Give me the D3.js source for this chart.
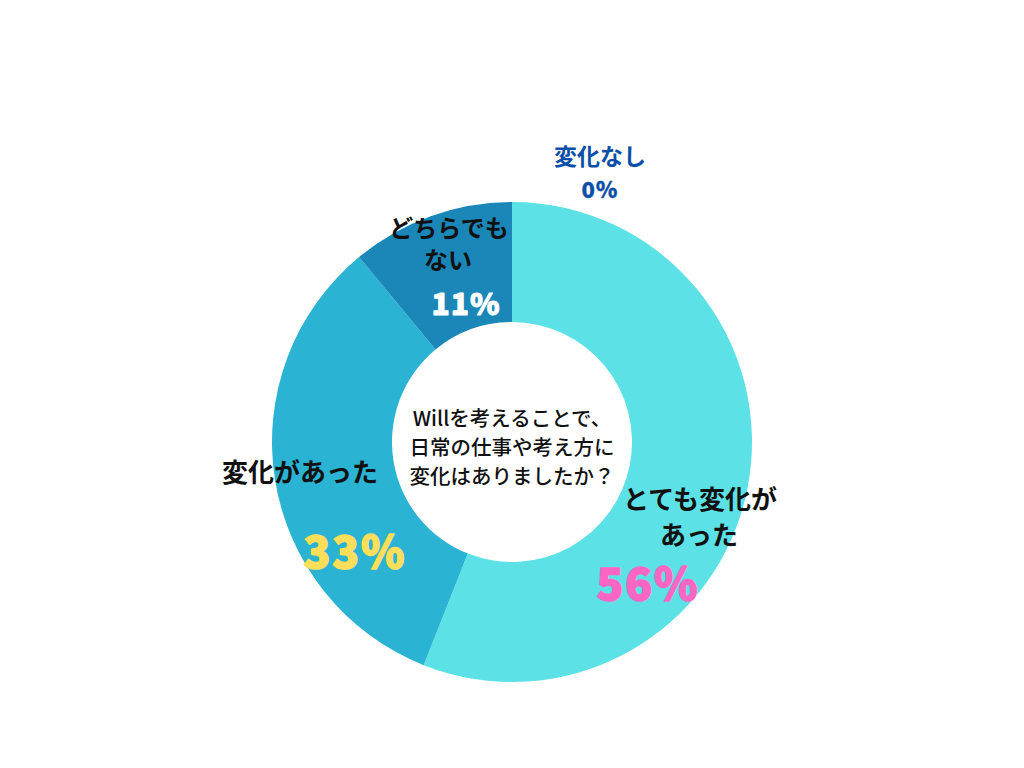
<!DOCTYPE html>
<html>
<head>
<meta charset="utf-8">
<script src="https://cdn.jsdelivr.net/npm/d3@7"></script>
<style>
  body { margin: 0; background: #fff; }
  svg { display: block; }
</style>
</head>
<body>
<svg id="chart"></svg>
<script>
// answers, in drawing order (clockwise from 12 o'clock)
let categories = ['とても変化があった', '変化があった', 'どちらでもない', '変化なし'];
let values = [56, 33, 11, 0];
let sliceColors = ['#5CE1E6', '#2BB3D4', '#1A87B8', '#0B4FA8'];

// label text as shown on the picture (lines + percent)
let labelLines = [['とても変化が', 'あった'], ['変化があった'], ['どちらでも', 'ない'], ['変化なし']];
let pctLabels = ['56%', '33%', '11%', '0%'];
let pctColors = ['#FF66C4', '#FFDE59', '#FFFFFF', '#0B4FA8'];
let centerLines = ['Willを考えることで、', '日常の仕事や考え方に', '変化はありましたか？'];

const w = 1024, h = 768;
const cx = 512, cy = 442;
const outerR = 240, innerR = 120;

const svg = d3.select('#chart')
  .attr('width', w)
  .attr('height', h);

const g = svg.append('g')
  .attr('transform', 'translate(' + cx + ',' + cy + ')');

const pie = d3.pie()
  .sort(null)
  .value(d => d);

const arc = d3.arc()
  .innerRadius(innerR)
  .outerRadius(outerR);

const slices = pie(values);

// donut slices
g.selectAll('.slice')
  .data(slices)
  .enter().append('path')
  .attr('class', 'slice')
  .attr('d', arc)
  .style('fill', (d, i) => sliceColors[i]);

// label anchors, offsets from the donut centre
const labelPos = [
  { text: [[188, 55], [187, 91]], pct: [136, 139], size: 26, pctSize: 44 },
  { text: [[-212, 28]], pct: [-157, 107], size: 26, pctSize: 44 },
  { text: [[-63, -216], [-64, -184]], pct: [-46, -140], size: 24, pctSize: 30 },
  { text: [[88, -287]], pct: [88, -254], size: 23, pctSize: 22 }
];

const jp = "'Noto Sans CJK JP', 'Noto Sans', sans-serif";

labelLines.forEach(function (lines, i) {
  let p = labelPos[i];
  let fill = i === 3 ? '#0B4FA8' : '#111';
  lines.forEach(function (line, j) {
    g.append('text')
      .attr('x', p.text[j][0])
      .attr('y', p.text[j][1])
      .attr('text-anchor', 'middle')
      .attr('dominant-baseline', 'central')
      .attr('font-family', jp)
      .attr('font-weight', 700)
      .attr('font-size', p.size)
      .style('fill', fill)
      .text(line);
  });
  g.append('text')
    .attr('x', p.pct[0])
    .attr('y', p.pct[1])
    .attr('text-anchor', 'middle')
    .attr('dominant-baseline', 'central')
    .attr('font-family', jp)
    .attr('font-weight', 900)
    .attr('font-size', p.pctSize)
    .attr('letter-spacing', i < 2 ? 2 : 1)
    .style('fill', pctColors[i])
    .style('stroke', pctColors[i])
    .style('stroke-width', i < 2 ? 1.6 : (i === 2 ? 0.9 : 0.3))
    .style('stroke-linejoin', 'round')
    .text(pctLabels[i]);
});

// question in the hole
g.selectAll('.center')
  .data(centerLines)
  .enter().append('text')
  .attr('class', 'center')
  .attr('x', 0)
  .attr('y', (d, i) => -25 + i * 29)
  .attr('text-anchor', 'middle')
  .attr('dominant-baseline', 'central')
  .attr('font-family', jp)
  .attr('font-weight', 500)
  .attr('font-size', 20.5)
  .style('fill', '#111')
  .text(d => d);
</script>
</body>
</html>
